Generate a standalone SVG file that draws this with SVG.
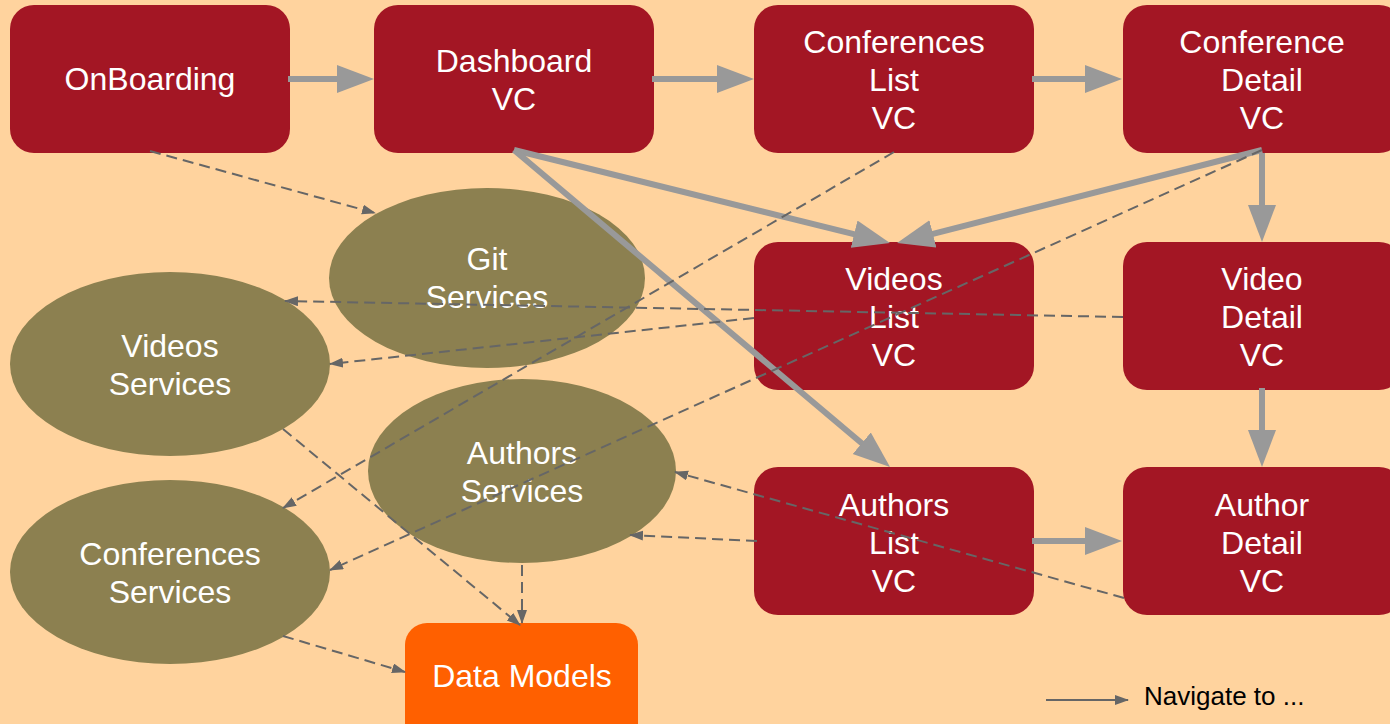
<svg xmlns="http://www.w3.org/2000/svg" width="1390" height="724" viewBox="0 0 1390 724">
  <style>
    .vc { fill: #A31624; }
    .svc { fill: #8C8050; }
    .model { fill: #FF6000; }
    .label { fill: #FFFFFF; font-family: "Liberation Sans", Arial, sans-serif; font-size: 32px; text-anchor: middle; }
    .nav { stroke: #999999; stroke-width: 6; fill: none; }
    .uses { stroke: #666666; stroke-width: 2; stroke-dasharray: 11 6; fill: none; }
    .legend-line { stroke: #666666; stroke-width: 2; fill: none; }
    .legend-text { fill: #000000; font-family: "Liberation Sans", Arial, sans-serif; font-size: 26px; }
  </style>
  <defs>
    <marker id="navHead" markerUnits="userSpaceOnUse" markerWidth="40" markerHeight="30" refX="7" refY="14" orient="auto">
      <path d="M0,0 L37,14 L0,28 z" fill="#999999"/>
    </marker>
    <marker id="usesHead" markerUnits="userSpaceOnUse" markerWidth="16" markerHeight="12" refX="13" refY="5" orient="auto">
      <path d="M0,0 L14,5 L0,10 z" fill="#666666"/>
    </marker>
  </defs>

  <rect width="1390" height="724" fill="#FFD39E"/>

  <!-- view controllers -->
  <g id="onboarding">
    <rect class="vc" x="10" y="5" width="280" height="148" rx="24"/>
    <text class="label" x="150" y="90">OnBoarding</text>
  </g>
  <g id="dashboard-vc">
    <rect class="vc" x="374" y="5" width="280" height="148" rx="24"/>
    <text class="label" x="514" y="72">Dashboard</text>
    <text class="label" x="514" y="110">VC</text>
  </g>
  <g id="conferences-list-vc">
    <rect class="vc" x="754" y="5" width="280" height="148" rx="24"/>
    <text class="label" x="894" y="53">Conferences</text>
    <text class="label" x="894" y="91">List</text>
    <text class="label" x="894" y="129">VC</text>
  </g>
  <g id="conference-detail-vc">
    <rect class="vc" x="1123" y="5" width="280" height="148" rx="24"/>
    <text class="label" x="1262" y="53">Conference</text>
    <text class="label" x="1262" y="91">Detail</text>
    <text class="label" x="1262" y="129">VC</text>
  </g>
  <g id="videos-list-vc">
    <rect class="vc" x="754" y="242" width="280" height="148" rx="24"/>
    <text class="label" x="894" y="290">Videos</text>
    <text class="label" x="894" y="328">List</text>
    <text class="label" x="894" y="366">VC</text>
  </g>
  <g id="video-detail-vc">
    <rect class="vc" x="1123" y="242" width="280" height="148" rx="24"/>
    <text class="label" x="1262" y="290">Video</text>
    <text class="label" x="1262" y="328">Detail</text>
    <text class="label" x="1262" y="366">VC</text>
  </g>
  <g id="authors-list-vc">
    <rect class="vc" x="754" y="467" width="280" height="148" rx="24"/>
    <text class="label" x="894" y="516">Authors</text>
    <text class="label" x="894" y="554">List</text>
    <text class="label" x="894" y="592">VC</text>
  </g>
  <g id="author-detail-vc">
    <rect class="vc" x="1123" y="467" width="280" height="148" rx="24"/>
    <text class="label" x="1262" y="516">Author</text>
    <text class="label" x="1262" y="554">Detail</text>
    <text class="label" x="1262" y="592">VC</text>
  </g>

  <!-- services -->
  <g id="git-services">
    <ellipse class="svc" cx="487" cy="278" rx="158" ry="90"/>
    <text class="label" x="487" y="270">Git</text>
    <text class="label" x="487" y="308">Services</text>
  </g>
  <g id="videos-services">
    <ellipse class="svc" cx="170" cy="364" rx="160" ry="92"/>
    <text class="label" x="170" y="357">Videos</text>
    <text class="label" x="170" y="395">Services</text>
  </g>
  <g id="authors-services">
    <ellipse class="svc" cx="522" cy="471" rx="154" ry="92"/>
    <text class="label" x="522" y="464">Authors</text>
    <text class="label" x="522" y="502">Services</text>
  </g>
  <g id="conferences-services">
    <ellipse class="svc" cx="170" cy="572" rx="160" ry="92"/>
    <text class="label" x="170" y="565">Conferences</text>
    <text class="label" x="170" y="603">Services</text>
  </g>

  <!-- models -->
  <g id="data-models">
    <rect class="model" x="405" y="623" width="233" height="130" rx="22"/>
    <text class="label" x="522" y="687">Data Models</text>
  </g>

  <!-- connectors -->
  <g id="connectors">
    <!-- navigation -->
    <line class="nav" x1="288" y1="79" x2="344" y2="79" marker-end="url(#navHead)"/>
    <line class="nav" x1="652" y1="79" x2="724" y2="79" marker-end="url(#navHead)"/>
    <line class="nav" x1="1032" y1="79" x2="1092" y2="79" marker-end="url(#navHead)"/>
    <line class="nav" x1="514" y1="150" x2="860.9" y2="235.8" marker-end="url(#navHead)"/>
    <line class="nav" x1="1262" y1="150" x2="926.1" y2="235.6" marker-end="url(#navHead)"/>
    <line class="nav" x1="1262" y1="153" x2="1262" y2="212" marker-end="url(#navHead)"/>
    <line class="nav" x1="514" y1="150" x2="867.1" y2="447.7" marker-end="url(#navHead)"/>
    <line class="nav" x1="1262" y1="388" x2="1262" y2="437" marker-end="url(#navHead)"/>
    <line class="nav" x1="1032" y1="541" x2="1092" y2="541" marker-end="url(#navHead)"/>

    <!-- service dependencies -->
    <line class="uses" x1="150" y1="151" x2="375" y2="213" marker-end="url(#usesHead)"/>
    <line class="uses" x1="894" y1="152" x2="283" y2="508" marker-end="url(#usesHead)"/>
    <line class="uses" x1="1262" y1="150" x2="330" y2="570" marker-end="url(#usesHead)"/>
    <line class="uses" x1="1123" y1="317" x2="285" y2="301" marker-end="url(#usesHead)"/>
    <line class="uses" x1="754" y1="318" x2="330" y2="364" marker-end="url(#usesHead)"/>
    <line class="uses" x1="283" y1="429" x2="520" y2="625" marker-end="url(#usesHead)"/>
    <line class="uses" x1="522" y1="565" x2="522" y2="623" marker-end="url(#usesHead)"/>
    <line class="uses" x1="283" y1="636" x2="405" y2="672" marker-end="url(#usesHead)"/>
    <line class="uses" x1="757" y1="541" x2="630" y2="535" marker-end="url(#usesHead)"/>
    <line class="uses" x1="1124" y1="598" x2="675" y2="472" marker-end="url(#usesHead)"/>
  </g>

  <!-- legend -->
  <g id="legend">
    <line class="legend-line" x1="1046" y1="700" x2="1128" y2="700" marker-end="url(#usesHead)"/>
    <text class="legend-text" x="1144" y="705">Navigate to ...</text>
  </g>
</svg>
